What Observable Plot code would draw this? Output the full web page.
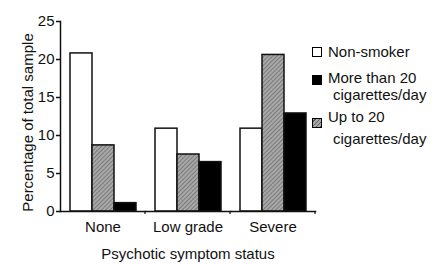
<!DOCTYPE html>
<html>
<head>
<meta charset="utf-8">
<script src="https://cdn.jsdelivr.net/npm/d3@7"></script>
<script src="https://cdn.jsdelivr.net/npm/@observablehq/plot@0.6"></script>
<style>
  html, body { margin: 0; padding: 0; background: white; }
  #wrap { position: relative; width: 432px; height: 264px; font-family: "Liberation Sans", Arial, sans-serif; }
  .lg-sq { position: absolute; width: 8px; height: 8px; border: 1.3px solid black; }
  .lg-tx { position: absolute; font-size: 15px; line-height: 14px; white-space: nowrap; color: #111; }
</style>
</head>
<body>
<div id="wrap"></div>
<script>
// ---- data ----
const groups = ["None", "Low grade", "Severe"];
const series = ["Non-smoker", "Up to 20 cigarettes/day", "More than 20 cigarettes/day"];
const nonSmoker = [20.8, 10.9, 10.9];
const upTo20 = [8.7, 7.5, 20.6];
const moreThan20 = [1.1, 6.5, 12.9];
const yTicks = [0, 5, 10, 15, 20, 25];
const xTitle = "Psychotic symptom status";
const yTitle = "Percentage of total sample";
const legendItems = [
  {key: "Non-smoker", lines: ["Non-smoker"]},
  {key: "More than 20 cigarettes/day", lines: ["More than 20", "cigarettes/day"]},
  {key: "Up to 20 cigarettes/day", lines: ["Up to 20", "cigarettes/day"]}
];

const valuesBySeries = [nonSmoker, upTo20, moreThan20];
const table = [];
groups.forEach((g, i) => series.forEach((s, j) => table.push({group: g, series: s, value: valuesBySeries[j][i]})));

const chart = Plot.plot({
  width: 432,
  height: 264,
  marginLeft: 59,
  marginRight: 117,
  marginTop: 21,
  marginBottom: 53,
  style: {fontFamily: "'Liberation Sans', Arial, sans-serif", fontSize: "15px", color: "#111", background: "transparent", overflow: "visible"},
  fx: {domain: groups, padding: 0},
  x: {domain: series, paddingInner: 0, paddingOuter: 0.37, axis: null},
  y: {domain: [0, 25]},
  color: {domain: series, range: ["white", "url(#hatch)", "black"]},
  marks: [
    Plot.barY(table, {fx: "group", x: "series", y: "value", fill: "series", stroke: "#111", strokeWidth: 1.5}),
    Plot.frame({anchor: "bottom", stroke: "#111", strokeWidth: 1.5}),
    Plot.frame({anchor: "left", facet: "super", stroke: "#111", strokeWidth: 1.5}),
    Plot.axisY(yTicks, {tickSize: 4, tickPadding: 2, strokeWidth: 1.5, fontSize: 15, label: yTitle, labelAnchor: "center", labelArrow: "none", labelOffset: 38}),
    Plot.axisFx({anchor: "bottom", tickSize: 0, tickPadding: 10, fontSize: 15, label: xTitle, labelAnchor: "center", labelArrow: "none", labelOffset: 47})
  ]
});

// hatch pattern
d3.select(chart).insert("defs", ":first-child").html(
  `<pattern id="hatch" patternUnits="userSpaceOnUse" width="3" height="3" patternTransform="rotate(45)">
     <rect width="3" height="3" fill="#a8a8a8"/>
     <line x1="0" y1="0" x2="0" y2="3" stroke="#5a5a5a" stroke-width="1.2"/>
   </pattern>`
);

// nudge the y title slightly down, as in the reference
d3.select(chart).selectAll("text").filter(function() { return this.textContent === yTitle; }).attr("dx", "-6");

// small ticks at group boundaries on x axis (from the fx scale)
const fxs = chart.scale("fx");
const ys = chart.scale("y");
const y0 = ys.apply(0);
const bounds = groups.map(g => fxs.apply(g)).concat([fxs.apply(groups[groups.length - 1]) + fxs.bandwidth]);
const gt = d3.select(chart).append("g").attr("stroke", "#111").attr("stroke-width", 1.2);
bounds.slice(1).forEach(b => gt.append("line").attr("x1", b).attr("x2", b).attr("y1", y0).attr("y2", y0 + 3));

const wrap = document.getElementById("wrap");
wrap.appendChild(chart);

// legend (HTML, beside the plot)
const sqFill = {
  "Non-smoker": "white",
  "Up to 20 cigarettes/day": "repeating-linear-gradient(-45deg, #5a5a5a 0 1px, #a8a8a8 1px 3px)",
  "More than 20 cigarettes/day": "black"
};
const sqTop = [47, 75, 118];
const lineTops = [[45], [71, 88], [110, 132]];
legendItems.forEach((it, i) => {
  const sq = document.createElement("div");
  sq.className = "lg-sq";
  sq.style.left = "312px";
  sq.style.top = sqTop[i] + "px";
  sq.style.background = sqFill[it.key];
  wrap.appendChild(sq);
  it.lines.forEach((t, k) => {
    const tx = document.createElement("div");
    tx.className = "lg-tx";
    tx.style.left = (k === 0 ? 328 : 333) + "px";
    tx.style.top = lineTops[i][k] + "px";
    tx.textContent = t;
    wrap.appendChild(tx);
  });
});
</script>
</body>
</html>
